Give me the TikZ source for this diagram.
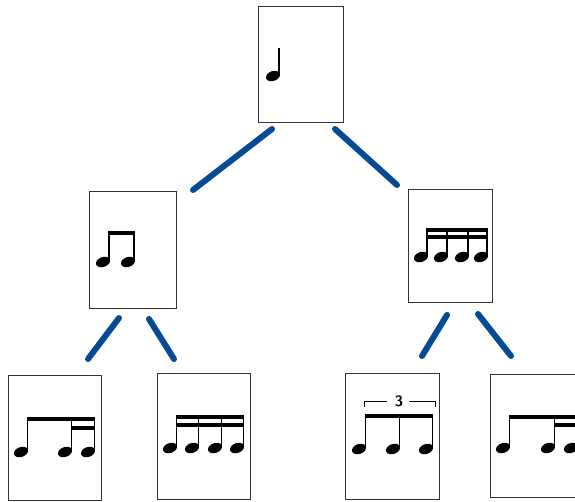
\documentclass[tikz,border=0pt]{standalone}
\usepackage{tikz}
\usetikzlibrary{calc}
\definecolor{treeblue}{RGB}{4,74,148}
\tikzset{card/.style={draw=black!80,line width=0.9pt,fill=white,inner sep=0pt}}
\tikzset{branch/.style={treeblue,line width=6pt,line cap=round}}
\newcommand{\nhead}[2]{\fill[rotate around={20:(#1,#2)}] (#1,#2) ellipse [x radius=7.3, y radius=4.9];}
\newcommand{\nstem}[3]{\draw[line width=1.2pt] (#1,#2) -- (#1,#3);}
\newcommand{\nbeam}[3]{\fill (#1-0.5,#3) rectangle (#2+0.5,#3+3.8);}

\begin{document}
\begin{tikzpicture}
[x=1pt, y=-1pt]
\useasboundingbox (0,0) rectangle (575,502);
% cards
\node (top) at (300.5,64)[card, minimum width=85pt, minimum height=116pt]{};
\node (ml) at (132.5,249.5)[card, minimum width=87pt, minimum height=117pt]{};
\node (mr) at (450,245.5)[card, minimum width=84pt, minimum height=113pt]{};
\node (b1) at (54.5,437.5)[card, minimum width=93pt, minimum height=125pt]{};
\node (b2) at (203.5,436)[card, minimum width=93pt, minimum height=126pt]{};
\node (b3) at (392,436)[card, minimum width=94pt, minimum height=126pt]{};
\node (b4) at (537,435.5)[card, minimum width=94pt, minimum height=123pt]{};

% branch ends
\coordinate (top-l) at (272,129);
\coordinate (ml-t) at (193,190);
\coordinate (top-r) at (335,129);
\coordinate (mr-t) at (397,185);
\coordinate (ml-l) at (119,318);
\coordinate (b1-t) at (88,359);
\coordinate (ml-r) at (149,319);
\coordinate (b2-t) at (174,359);
\coordinate (mr-l) at (447,315);
\coordinate (b3-t) at (422,356);
\coordinate (mr-r) at (478,314);
\coordinate (b4-t) at (511,356);

\draw[branch] (top-l) -- (ml-t);
\draw[branch] (top-r) -- (mr-t);
\draw[branch] (ml-l) -- (b1-t);
\draw[branch] (ml-r) -- (b2-t);
\draw[branch] (mr-l) -- (b3-t);
\draw[branch] (mr-r) -- (b4-t);

% quarter
\nhead{273}{76} \nstem{279}{48}{75}
% two eighths
\nhead{103}{262} \nhead{128}{262}
\nstem{109}{231}{261} \nstem{134}{231}{261}
\nbeam{109}{134}{231}
% four sixteenths
\nhead{421}{257} \nhead{441}{257} \nhead{462}{257} \nhead{481}{257}
\nstem{427}{228}{256} \nstem{447}{228}{256} \nstem{468}{228}{256} \nstem{487}{228}{256}
\nbeam{427}{487}{228} \nbeam{427}{487}{235}
% eighth and two sixteenths
\nhead{21}{452} \nhead{65}{452} \nhead{88}{452}
\nstem{27.5}{417}{451} \nstem{71.5}{417}{451} \nstem{94.5}{417}{451}
\nbeam{27.5}{94.5}{417} \nbeam{71.5}{94.5}{426}
% four sixteenths
\nhead{170}{448} \nhead{192}{448} \nhead{215}{448} \nhead{237}{448}
\nstem{176.5}{415}{447} \nstem{198.5}{415}{447} \nstem{221.5}{415}{447} \nstem{243.5}{415}{447}
\nbeam{176.5}{243.5}{415} \nbeam{176.5}{243.5}{423}
% triplet
\nhead{359}{449} \nhead{393}{449} \nhead{426}{449}
\nstem{365.5}{414}{448} \nstem{399.5}{414}{448} \nstem{432.5}{414}{448}
\nbeam{365.5}{432.5}{414}
\draw[line width=0.8pt] (364,406.5) -- (364,401) -- (387,401);
\draw[line width=0.8pt] (409,401) -- (435,401) -- (435,406.5);
\node (three) at (399,401.5){\fontsize{15}{15}\selectfont\sffamily\bfseries 3};
% eighth and two sixteenths, cut off
\nhead{503}{448} \nhead{548}{448} \nhead{571}{448}
\nstem{509.5}{415}{447} \nstem{554.5}{415}{447} \nstem{577.5}{415}{447}
\nbeam{509.5}{577.5}{415} \nbeam{554.5}{577.5}{423}
\end{tikzpicture}
\end{document}
